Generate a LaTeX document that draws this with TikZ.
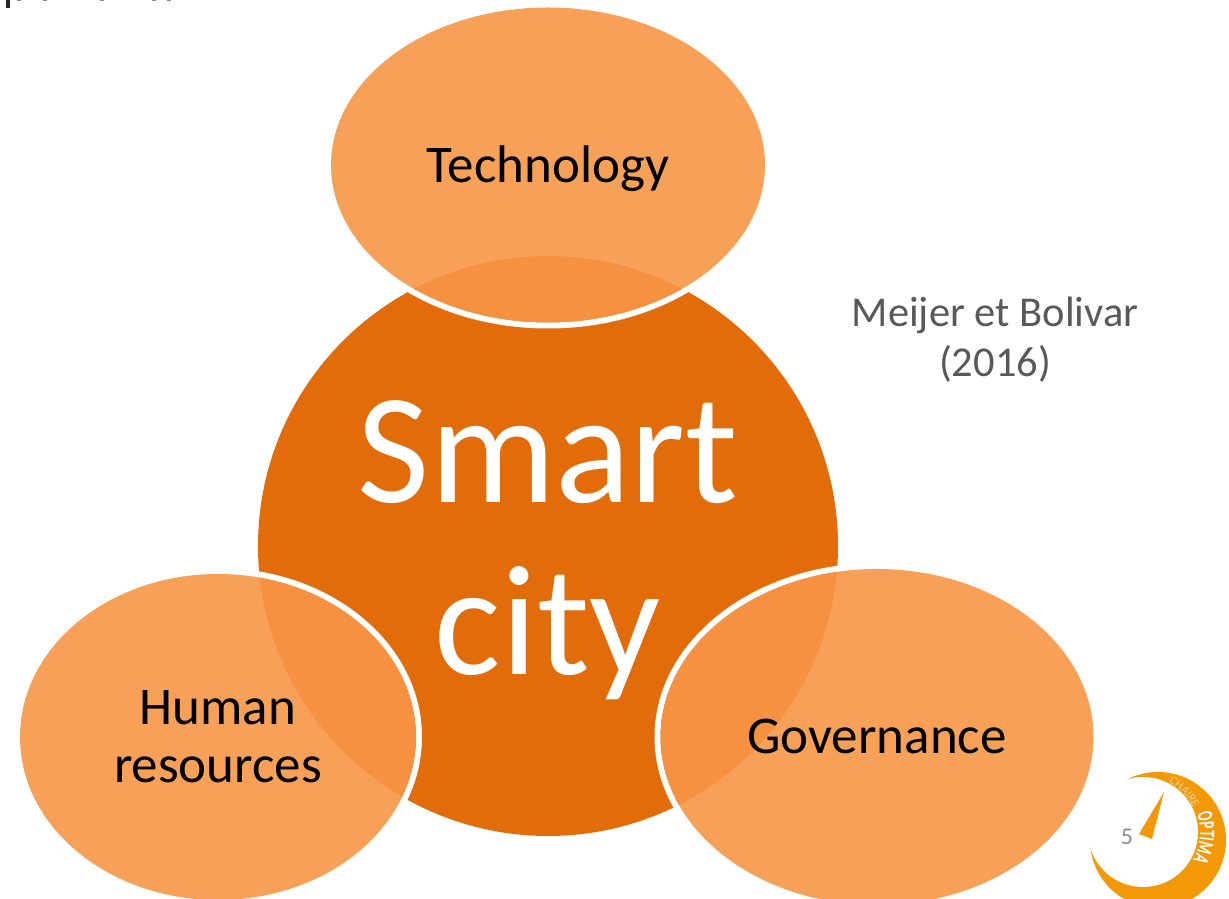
\documentclass[tikz,border=0pt]{standalone}
\usepackage{fontspec}
\setmainfont{Carlito}
\newfontfamily\logofont[FakeStretch=.62]{Carlito Bold}
\usetikzlibrary{shapes.geometric,decorations.text}
\definecolor{deep}{HTML}{E36C0A}
\definecolor{soft}{HTML}{F79646}
\definecolor{logoor}{HTML}{F39806}
\newcommand{\lowered}[2]{\raisebox{-#1pt}[0pt][0pt]{#2}}
\tikzset{
 petal/.style={shape=ellipse,inner sep=0pt,fill=soft,fill opacity=.9,text opacity=1,text=black,align=center,font=\fontsize{53}{58}\selectfont},
 halo/.style={draw=white,line width=6pt}
}
\begin{document}
\begin{tikzpicture}[x=1pt,y=1pt]
\useasboundingbox (0,0) rectangle (1229,899);
\fill[white] (0,0) rectangle (1229,899);
% cut-off line of text at the top edge
\fill[black!85] (6,891) rectangle (10,899);
\foreach \xa in {17,43,100,152,167}{\fill[black!45] (\xa,897.5) rectangle (\xa+4,899);}
% centre
\node[circle,fill=deep,minimum size=580pt,inner sep=0pt,text=white,align=center,font=\fontsize{157}{172}\selectfont] (core) at (548,353) {\lowered{43}{Smart}\\\lowered{43}{city}};
% halos
\draw[halo] (548,734) ellipse [x radius=220,y radius=160.5];
\draw[halo] (218,162) ellipse [x radius=201,y radius=166];
\draw[halo] (877,162) ellipse [x radius=219.5,y radius=171];
% petals
\node[petal,minimum width=434pt,minimum height=315pt] (tech) at (548,734) {\lowered{18}{Technology}};
\node[petal,minimum width=396pt,minimum height=326pt] (human) at (218,162) {Human\\resources};
\node[petal,minimum width=433pt,minimum height=336pt] (gov) at (877,162) {Governance};
% source
\node[text=black!65,align=center,font=\fontsize{42.5}{50}\selectfont] (src) at (995,559) {Meijer et Bolivar\\(2016)};
% logo
\fill[logoor] (1158,59) circle [radius=68];
\fill[white] (1143,67) circle [radius=55];
\fill[logoor] (1164,107) -- (1139,65) -- (1152,60) -- cycle;
\node[text=black!45,font=\fontsize{24}{28}\selectfont] (page) at (1127,62) {5};
\path[postaction={decorate,decoration={text along path,text align=center,text={|\fontsize{12}{14}\selectfont\color{logoor!45}|CHAIRE}}}]
 (1166,118) arc [start angle=65,end angle=22,radius=56];
\path[postaction={decorate,decoration={text along path,text align=center,text={|\logofont\fontsize{22}{22}\selectfont\color{white}|OPTIMA}}}]
 (1195,90) arc [start angle=24,end angle=-34,radius=57];
\end{tikzpicture}
\end{document}
